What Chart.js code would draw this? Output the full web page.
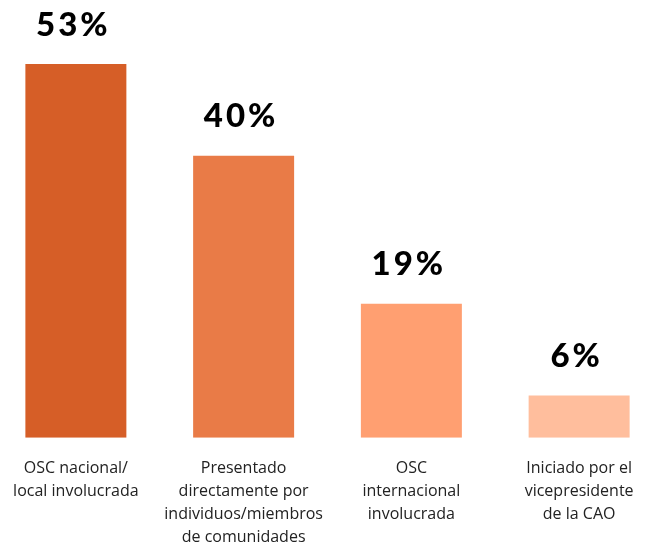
<!DOCTYPE html>
<html><head><meta charset="utf-8">
<script src="https://cdn.jsdelivr.net/npm/chart.js@4.4.0/dist/chart.umd.min.js"></script>
<style>
html,body{margin:0;padding:0;background:#fff;overflow:hidden;width:650px;height:545px;}
#wrap{position:absolute;left:-8px;top:0;width:671px;height:568px;}
</style></head>
<body><div id="wrap"><canvas id="c" width="671" height="568"></canvas></div>
<script>
const categories = [
  ["OSC nacional/", "local involucrada"],
  ["Presentado", "directamente por", "individuos/miembros", "de comunidades"],
  ["OSC", "internacional", "involucrada"],
  ["Iniciado por el", "vicepresidente", "de la CAO"]
];
const values = [53, 40, 19, 6];
const valueLabels = ["53%", "40%", "19%", "6%"];
const colors = ["#D65E27", "#E97B47", "#FF9F71", "#FFBE9D"];

const labelPlugin = {
  id: 'valueLabels',
  afterDatasetsDraw(chart) {
    const ctx = chart.ctx;
    const meta = chart.getDatasetMeta(0);
    ctx.save();
    ctx.font = '900 33px Lato';
    ctx.fillStyle = '#000';
    ctx.textAlign = 'center';
    ctx.textBaseline = 'alphabetic';
    try { ctx.letterSpacing = '3px'; } catch (e) {}
    meta.data.forEach((bar, i) => {
      ctx.fillText(valueLabels[i], bar.x - 2.5, bar.y - 28.5);
    });
    ctx.restore();
  }
};

new Chart(document.getElementById('c'), {
  type: 'bar',
  data: {
    labels: categories,
    datasets: [{
      data: values,
      backgroundColor: colors,
      borderWidth: 0,
      categoryPercentage: 1,
      barPercentage: 0.602
    }]
  },
  options: {
    responsive: false,
    animation: false,
    layout: { padding: { top: 64, left: 0, right: 0, bottom: 0 } },
    plugins: { legend: { display: false }, tooltip: { enabled: false } },
    scales: {
      y: { display: false, min: 0, max: 53 },
      x: {
        grid: { display: false, drawTicks: false },
        border: { display: false },
        ticks: {
          color: '#222',
          font: { family: 'Open Sans', size: 16, lineHeight: 1.44 },
          padding: 19,
          maxRotation: 0,
          autoSkip: false
        }
      }
    }
  },
  plugins: [labelPlugin]
});
</script></body></html>
